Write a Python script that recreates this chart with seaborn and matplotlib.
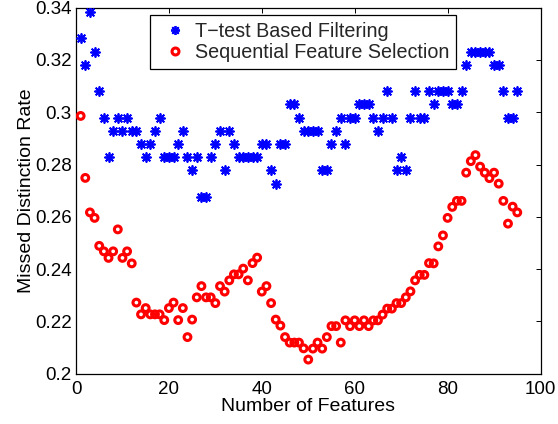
import matplotlib
matplotlib.use("Agg")
import matplotlib.pyplot as plt
from matplotlib.lines import Line2D
import seaborn as sns
import pandas as pd

num_features = list(range(1, 96))

ttest_rate = [
    0.3283, 0.3182, 0.3384, 0.3232, 0.3081, 0.2980, 0.2828, 0.2929, 0.2980, 0.2929,
    0.2980, 0.2929, 0.2929, 0.2879, 0.2828, 0.2879, 0.2929, 0.2980, 0.2828, 0.2828,
    0.2828, 0.2879, 0.2929, 0.2828, 0.2778, 0.2828, 0.2677, 0.2677, 0.2828, 0.2879,
    0.2929, 0.2778, 0.2929, 0.2879, 0.2828, 0.2828, 0.2828, 0.2828, 0.2828, 0.2879,
    0.2879, 0.2778, 0.2727, 0.2879, 0.2879, 0.3030, 0.3030, 0.2980, 0.2929, 0.2929,
    0.2929, 0.2929, 0.2778, 0.2778, 0.2879, 0.2929, 0.2980, 0.2879, 0.2980, 0.2980,
    0.3030, 0.3030, 0.3030, 0.2980, 0.2929, 0.2980, 0.3081, 0.2980, 0.2778, 0.2828,
    0.2778, 0.2980, 0.3081, 0.2980, 0.2980, 0.3081, 0.3030, 0.3081, 0.3081, 0.3081,
    0.3030, 0.3030, 0.3081, 0.3182, 0.3232, 0.3232, 0.3232, 0.3232, 0.3232, 0.3182,
    0.3182, 0.3081, 0.2980, 0.2980, 0.3081,
]

sfs_rate = [
    0.2986, 0.2749, 0.2617, 0.2596, 0.2489, 0.2468, 0.2443, 0.2468, 0.2552, 0.2443,
    0.2468, 0.2422, 0.2272, 0.2227, 0.2251, 0.2227, 0.2227, 0.2227, 0.2205, 0.2251,
    0.2272, 0.2205, 0.2251, 0.2140, 0.2207, 0.2292, 0.2335, 0.2292, 0.2292, 0.2270,
    0.2335, 0.2314, 0.2357, 0.2380, 0.2380, 0.2402, 0.2357, 0.2423, 0.2444, 0.2314,
    0.2335, 0.2270, 0.2207, 0.2184, 0.2140, 0.2119, 0.2119, 0.2119, 0.2097, 0.2054,
    0.2096, 0.2119, 0.2096, 0.2140, 0.2182, 0.2182, 0.2119, 0.2204, 0.2182, 0.2204,
    0.2182, 0.2204, 0.2182, 0.2204, 0.2204, 0.2226, 0.2249, 0.2249, 0.2270, 0.2270,
    0.2292, 0.2315, 0.2357, 0.2378, 0.2378, 0.2423, 0.2422, 0.2487, 0.2529, 0.2596,
    0.2638, 0.2661, 0.2661, 0.2769, 0.2813, 0.2836, 0.2792, 0.2769, 0.2748, 0.2769,
    0.2727, 0.2661, 0.2574, 0.2639, 0.2617,
]

series_names = ["T\u2212test Based Filtering", "Sequential Feature Selection"]
x_ticks = [0, 20, 40, 60, 80, 100]
y_ticks = [0.2, 0.22, 0.24, 0.26, 0.28, 0.3, 0.32, 0.34]
y_tick_labels = ["0.2", "0.22", "0.24", "0.26", "0.28", "0.3", "0.32", "0.34"]

sns.set_theme(style="white")
plt.rcParams["font.family"] = ["Liberation Sans", "DejaVu Sans"]

df_t = pd.DataFrame({"features": num_features, "rate": ttest_rate})
df_s = pd.DataFrame({"features": num_features, "rate": sfs_rate})

fig = plt.figure(figsize=(5.58, 4.24), dpi=100)
ax = fig.add_axes([76 / 558, (424 - 373.7) / 424, (540.5 - 76) / 558, (373.7 - 7.7) / 424])

ast = (8, 2, 0)
sns.scatterplot(data=df_t, x="features", y="rate", ax=ax, marker=ast,
                color="#0000ff", edgecolor="#0000ff", linewidth=1.3, s=42, zorder=3)
sns.scatterplot(data=df_s, x="features", y="rate", ax=ax, marker="o",
                facecolor="none", edgecolor="#ff0000", linewidth=2.2, s=24, zorder=3)

ax.set_xlim(0, 100)
ax.set_ylim(0.2, 0.34)
ax.set_xticks(x_ticks)
ax.set_xticklabels([str(v) for v in x_ticks])
ax.set_yticks(y_ticks)
ax.set_yticklabels(y_tick_labels)

for s in ax.spines.values():
    s.set_visible(True)
    s.set_color("black")
    s.set_linewidth(0.9)

ax.tick_params(axis="both", which="both", direction="in", length=3.5, width=0.7,
               top=True, right=True, labelsize=13.5, colors="black")
ax.tick_params(axis="y", pad=3)
ax.tick_params(axis="x", pad=5)

ax.set_xlabel("Number of Features", fontsize=14, labelpad=0, color="black")
ax.set_ylabel("Missed Distinction Rate", fontsize=14, labelpad=0, color="black")

handles = [
    Line2D([], [], ls="none", marker=ast, color="#0000ff", markeredgecolor="#0000ff",
           markersize=6.5, markeredgewidth=1.3),
    Line2D([], [], ls="none", marker="o", markerfacecolor="none", markeredgecolor="#ff0000",
           markersize=5, markeredgewidth=2.2),
]
leg = ax.legend(handles, series_names, loc="upper left", bbox_to_anchor=(0.159, 0.980),
                borderaxespad=0, fontsize=14.2, frameon=True, fancybox=False,
                edgecolor="black", framealpha=1, borderpad=0.35, handlelength=1.8,
                handletextpad=0.15, labelspacing=0.1)
leg.get_frame().set_linewidth(0.9)

fig.savefig("out.png", dpi=100)
